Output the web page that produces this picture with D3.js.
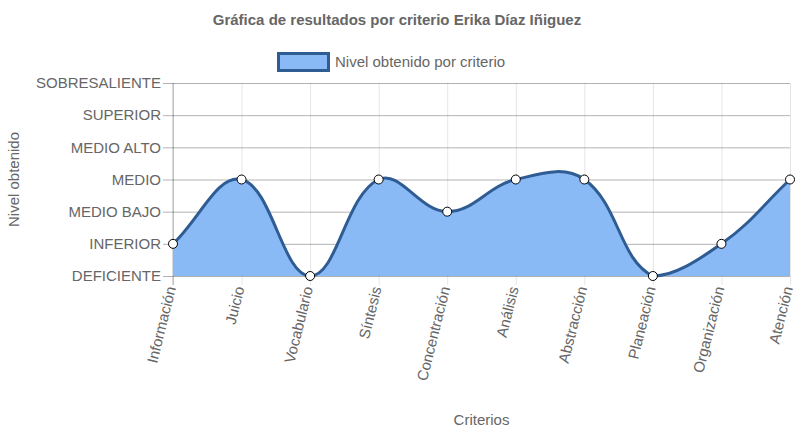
<!DOCTYPE html>
<html><head><meta charset="utf-8">
<script src="https://cdn.jsdelivr.net/npm/d3@7"></script>
<style>body{margin:0;background:#fff}svg{display:block;font-family:"Liberation Sans",Arial,sans-serif}</style>
</head><body><svg id="c" width="795" height="435"></svg>
<script>
const categories = ["Información","Juicio","Vocabulario","Síntesis","Concentración","Análisis","Abstracción","Planeación","Organización","Atención"];
const levels = ["DEFICIENTE","INFERIOR","MEDIO BAJO","MEDIO","MEDIO ALTO","SUPERIOR","SOBRESALIENTE"];
const values = [1,3,0,3,2,3,3,0,1,3];
const titleText = "Gráfica de resultados por criterio Erika Díaz Iñiguez";
const seriesName = "Nivel obtenido por criterio";

const svg = d3.select("#c");
const L=173,R=790,T=83,B=276;
const x = d3.scalePoint().domain(categories).range([L,R]);
const y = d3.scaleLinear().domain([0,levels.length-1]).range([B,T]);
const txt="#666";
const fs="15px";

// grid
const gx = svg.append("g").attr("transform",`translate(0,${B})`)
  .call(d3.axisBottom(x).tickSize(-(B-T)).tickFormat(""));
gx.selectAll(".tick line").attr("stroke","rgba(0,0,0,0.1)");
gx.select(".domain").remove();
svg.append("g").attr("transform",`translate(0,${B})`)
  .call(d3.axisBottom(x).tickSize(9).tickFormat("")).call(g=>{g.select(".domain").remove();g.selectAll("line").attr("stroke","rgba(0,0,0,0.1)");});
const gy = svg.append("g").attr("transform",`translate(${L},0)`)
  .call(d3.axisLeft(y).ticks(levels.length-1).tickSize(10).tickPadding(2).tickFormat(d=>levels[d]));
gy.select(".domain").remove();
gy.selectAll(".tick line").attr("stroke","rgba(0,0,0,0.3)").attr("x2",R-L);
gy.selectAll(".tick line").attr("x1",-10);
gy.selectAll("text").attr("fill",txt).style("font-size",fs);
svg.append("line").attr("x1",L).attr("x2",L).attr("y1",T).attr("y2",B+9).attr("stroke","rgba(0,0,0,0.3)");

// x labels
svg.append("g").selectAll("text").data(categories).join("text")
  .attr("transform",d=>`translate(${x(d)+3},${B+12}) rotate(-76)`)
  .attr("text-anchor","end").attr("fill",txt).style("font-size",fs).text(d=>d);

// Chart.js style spline
const pts = categories.map((c,i)=>({x:x(c),y:y(values[i])}));
const t=0.4;
pts.forEach((p,i)=>{
  const prev = pts[i-1]||p, next = pts[i+1]||p;
  const d01=Math.hypot(p.x-prev.x,p.y-prev.y), d12=Math.hypot(next.x-p.x,next.y-p.y);
  let s01=d01/(d01+d12), s12=d12/(d01+d12);
  if(isNaN(s01))s01=0; if(isNaN(s12))s12=0;
  const fa=t*s01, fb=t*s12;
  p.cpx0=p.x-fa*(next.x-prev.x); p.cpy0=p.y-fa*(next.y-prev.y);
  p.cpx1=p.x+fb*(next.x-prev.x); p.cpy1=p.y+fb*(next.y-prev.y);
  const cl=(v,a,b)=>Math.max(a,Math.min(b,v));
  p.cpx0=cl(p.cpx0,L,R);p.cpx1=cl(p.cpx1,L,R);
  p.cpy0=cl(p.cpy0,T,B);p.cpy1=cl(p.cpy1,T,B);
});
function linePath(ctx){
  ctx.moveTo(pts[0].x,pts[0].y);
  for(let i=1;i<pts.length;i++){
    const a=pts[i-1],b=pts[i];
    ctx.bezierCurveTo(a.cpx1,a.cpy1,b.cpx0,b.cpy0,b.x,b.y);
  }
  return ctx;
}
const ap=linePath(d3.path()); ap.lineTo(pts[pts.length-1].x,B); ap.lineTo(pts[0].x,B); ap.closePath();
const fillC="#8abaf6", lineC="#2f5c92";
svg.append("path").attr("d",ap.toString()).attr("fill",fillC).attr("fill-opacity",1);
svg.append("path").attr("d",linePath(d3.path()).toString()).attr("fill","none").attr("stroke",lineC).attr("stroke-width",3);
svg.append("g").selectAll("circle").data(pts).join("circle")
  .attr("cx",d=>d.x).attr("cy",d=>d.y).attr("r",4.5).attr("fill","#fff").attr("stroke","#000").attr("stroke-width",1);

// titles
svg.append("text").attr("x",397).attr("y",25).attr("text-anchor","middle").attr("fill",txt)
  .style("font-size",fs).style("font-weight","bold").text(titleText);
svg.append("rect").attr("x",278.5).attr("y",53.5).attr("width",50).attr("height",17).attr("fill",fillC).attr("stroke",lineC).attr("stroke-width",3);
svg.append("text").attr("x",335).attr("y",67).attr("fill",txt).style("font-size",fs).text(seriesName);
svg.append("text").attr("transform",`translate(19,${(T+B)/2}) rotate(-90)`).attr("text-anchor","middle").attr("fill",txt).style("font-size",fs).text("Nivel obtenido");
svg.append("text").attr("x",(L+R)/2).attr("y",425).attr("text-anchor","middle").attr("fill",txt).style("font-size",fs).text("Criterios");
</script></body></html>
